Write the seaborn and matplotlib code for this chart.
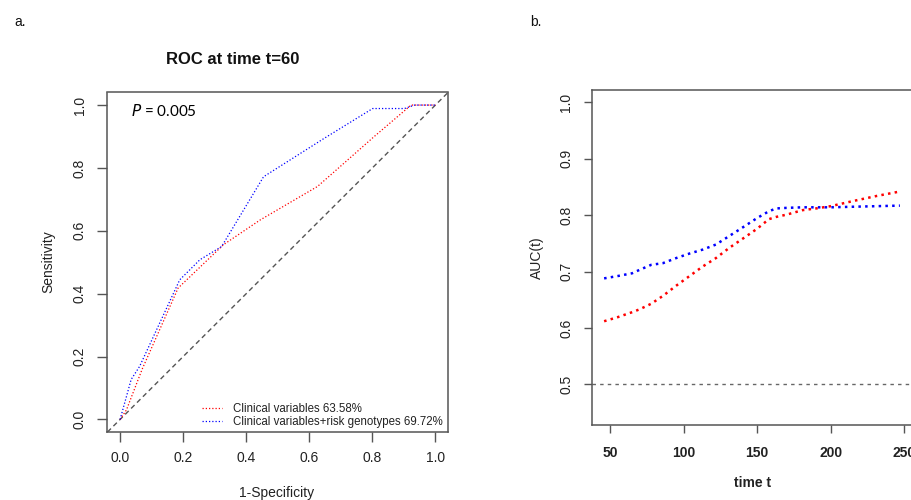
import numpy as np
import pandas as pd
import matplotlib
matplotlib.use("Agg")
import matplotlib.pyplot as plt
import seaborn as sns

# ---- Panel a: ROC at t=60 ----
roc_fpr_clin = [0.0, 0.02, 0.07, 0.184, 0.328, 0.445, 0.626, 0.71, 0.806, 0.923, 1.0]
roc_tpr_clin = [0.0, 0.03, 0.16, 0.418, 0.556, 0.635, 0.741, 0.815, 0.90, 1.0, 1.0]
roc_fpr_gen = [0.0, 0.035, 0.062, 0.189, 0.253, 0.322, 0.455, 0.647, 0.801, 0.902, 0.934, 1.0]
roc_tpr_gen = [0.0, 0.127, 0.169, 0.444, 0.508, 0.55, 0.772, 0.894, 0.989, 0.989, 1.0, 1.0]
roc_labels = ["Clinical variables 63.58%", "Clinical variables+risk genotypes 69.72%"]
p_text = "0.005"

# ---- Panel b: AUC(t) ----
auc_time = [46, 55, 65, 70, 78, 86, 95, 104, 113, 122, 131, 140, 150, 158, 163, 170, 181, 190, 200, 215, 231, 247]
auc_gen = [0.688, 0.692, 0.697, 0.703, 0.712, 0.715, 0.724, 0.732, 0.739, 0.748, 0.763, 0.778,
           0.795, 0.807, 0.812, 0.813, 0.814, 0.814, 0.814, 0.815, 0.816, 0.817]
auc_clin = [0.612, 0.619, 0.628, 0.633, 0.643, 0.657, 0.675, 0.692, 0.709, 0.724, 0.742, 0.758,
            0.776, 0.793, 0.797, 0.801, 0.809, 0.812, 0.816, 0.825, 0.834, 0.842]

sns.set_theme(style="ticks")
plt.rcParams["font.family"] = ["Liberation Sans", "DejaVu Sans"]

W, H = 912, 500
fig = plt.figure(figsize=(W / 100, H / 100), dpi=100)
fig.patch.set_facecolor("white")


def rect(l, t, r, b):
    return [l / W, 1 - b / H, (r - l) / W, (b - t) / H]


def fx(px):
    return px / W


def fy(py):
    return 1 - py / H


FRAME = "#555555"

# ---------------- Panel a ----------------
ax1 = fig.add_axes(rect(107.5, 92.5, 448, 432))
df_clin = pd.DataFrame({"fpr": roc_fpr_clin, "tpr": roc_tpr_clin})
df_gen = pd.DataFrame({"fpr": roc_fpr_gen, "tpr": roc_tpr_gen})
ax1.axline((0, 0), (1, 1), color="#555555", lw=1.0, linestyle=(0, (3.5, 2.5)), zorder=1)
sns.lineplot(data=df_clin, x="fpr", y="tpr", ax=ax1, sort=False, estimator=None,
             color="red", lw=0.9, linestyle=(0, (1, 1.6)), label=roc_labels[0])
sns.lineplot(data=df_gen, x="fpr", y="tpr", ax=ax1, sort=False, estimator=None,
             color="blue", lw=0.9, linestyle=(0, (1, 1.6)), label=roc_labels[1])
ax1.set_xlim(-0.04, 1.04)
ax1.set_ylim(-0.04, 1.04)
ticks = [0.0, 0.2, 0.4, 0.6, 0.8, 1.0]
ax1.set_xticks(ticks)
ax1.set_yticks(ticks)
ax1.set_xticklabels([f"{t:.1f}" for t in ticks])
ax1.set_yticklabels([f"{t:.1f}" for t in ticks])
ax1.set_xlabel("")
ax1.set_ylabel("")
ax1.tick_params(axis="both", length=7, width=1, color=FRAME, labelsize=10, labelcolor="#222222")
ax1.tick_params(axis="x", pad=7)
ax1.tick_params(axis="y", pad=8)
plt.setp(ax1.get_yticklabels(), rotation=90, va="center")
for s in ax1.spines.values():
    s.set_color(FRAME)
    s.set_linewidth(1.1)
leg = ax1.legend(loc="lower left", bbox_to_anchor=(0.2775, 0.012), frameon=False,
                 fontsize=8.3, handlelength=1.75, handletextpad=0.9, labelspacing=0.12,
                 borderpad=0, borderaxespad=0)
for t in leg.get_texts():
    t.set_color("#222222")
ax1.text(0.07, 0.945, "$P$ = " + p_text, transform=ax1.transAxes, fontsize=11,
         family=["Lato", "DejaVu Sans"], ha="left", va="center", color="black")

# ---------------- Panel b ----------------
ax2 = fig.add_axes(rect(592.3, 90, 914, 425))
df_auc = pd.DataFrame({
    "time": auc_time * 2,
    "auc": auc_clin + auc_gen,
    "model": ["clin"] * len(auc_time) + ["gen"] * len(auc_time),
})
ax2.axhline(0.5, color="#666666", lw=1.0, linestyle=(0, (2.5, 3)), zorder=1)
sns.lineplot(data=df_auc, x="time", y="auc", hue="model", palette={"clin": "red", "gen": "blue"},
             ax=ax2, estimator=None, sort=True, lw=1.8, linestyle=(0, (1, 1.7)), legend=False)
ax2.set_xlim(37.97, 256.6)
ax2.set_ylim(0.428, 1.022)
xt = [50, 100, 150, 200, 250]
yt = [0.5, 0.6, 0.7, 0.8, 0.9, 1.0]
ax2.set_xticks(xt)
ax2.set_yticks(yt)
ax2.set_xticklabels([str(v) for v in xt])
ax2.set_yticklabels([f"{v:.1f}" for v in yt])
ax2.set_xlabel("")
ax2.set_ylabel("")
ax2.tick_params(axis="both", length=5.8, width=1, color=FRAME, labelsize=10, labelcolor="#222222")
ax2.tick_params(axis="x", pad=9)
ax2.tick_params(axis="y", pad=8)
plt.setp(ax2.get_yticklabels(), rotation=90, va="center")
plt.setp(ax2.get_xticklabels(), fontweight="bold")
for s in ax2.spines.values():
    s.set_color(FRAME)
    s.set_linewidth(1.1)

# ---------------- Texts ----------------
fig.text(fx(233), fy(60), "ROC at time t=60", fontsize=12, fontweight="bold", ha="center", va="center",
         color="#111111")
fig.text(fx(14), fy(22), "a.", fontsize=10, ha="left", va="center", color="#111111")
fig.text(fx(530), fy(22), "b.", fontsize=10, ha="left", va="center", color="#111111")
fig.text(fx(48), fy(262), "Sensitivity", fontsize=10, rotation=90, ha="center", va="center", color="#222222")
fig.text(fx(277), fy(493), "1-Specificity", fontsize=10, ha="center", va="center", color="#222222")
fig.text(fx(537), fy(258), "AUC(t)", fontsize=10, rotation=90, ha="center", va="center", color="#222222")
fig.text(fx(753), fy(483), "time t", fontsize=10, fontweight="bold", ha="center", va="center", color="#222222")

fig.savefig("out.png", dpi=100, facecolor="white")
